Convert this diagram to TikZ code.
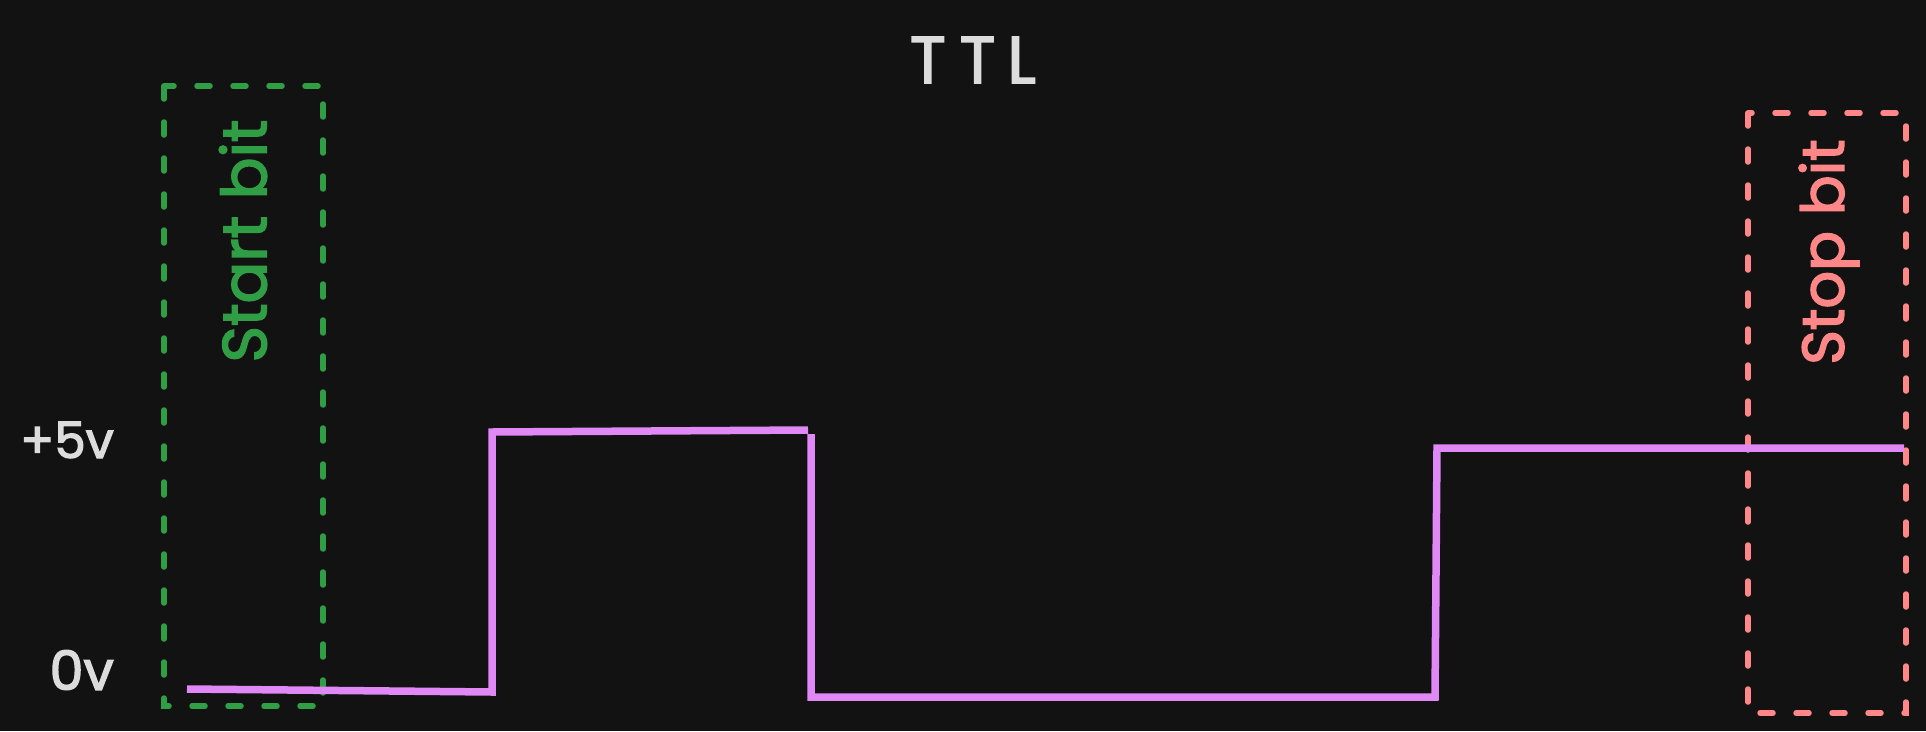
\documentclass[tikz,border=0pt]{standalone}
\usepackage{fontspec}
\setmainfont{Poppins}[FakeBold=2.5,BoldFont=Poppins]
\definecolor{bg}{HTML}{121212}
\definecolor{txtc}{HTML}{DCDCDC}
\definecolor{startc}{HTML}{2F9E44}
\definecolor{stopc}{HTML}{FF8787}
\definecolor{sigc}{HTML}{E088F5}
\begin{document}
\begin{tikzpicture}[x=1pt,y=-1pt,
  lbl/.style={text=txtc, inner sep=0pt},
  bitbox/.style={line width=5.5pt, dash pattern=on 13pt off 23pt, line cap=round},
  bitlbl/.style={inner sep=0pt, rotate=90},
  signal/.style={draw=sigc, line width=7.5pt, line join=miter}]
\fill[bg] (0,0) rectangle (1926,731);
\useasboundingbox (0,0) rectangle (1926,731);
% title
\node[lbl, font=\fontsize{66}{70}\selectfont\bfseries] (title) at (973,60) {T\hspace{14pt}T\hspace{12pt}L};
% level labels
\node[lbl, font=\fontsize{50}{54}\selectfont\bfseries, anchor=east] (hi) at (114,440) {+5v};
\node[lbl, font=\fontsize{54}{58}\selectfont\bfseries, anchor=east] (lo) at (114,670) {0v};
% start bit box
\draw[bitbox, draw=startc] (164,86) rectangle (323,706);
\node[bitlbl, text=startc, font=\fontsize{62}{66}\selectfont\bfseries] (startlbl) at (243,241) {Start bit};
% stop bit box
\draw[bitbox, draw=stopc] (1748,113) rectangle (1906,713);
\node[bitlbl, text=stopc, font=\fontsize{59}{63}\selectfont\bfseries] (stoplbl) at (1829,252) {Stop bit};
% signal
\coordinate (a) at (187,689);
\coordinate (b) at (492,692);
\coordinate (c) at (492,432);
\coordinate (d) at (808,430);
\coordinate (e) at (811,434);
\coordinate (f) at (811,697);
\coordinate (g) at (1435,697);
\coordinate (h) at (1437,448);
\coordinate (i) at (1904,448);
\draw[signal] (a) -- (b) -- (c) -- (d);
\draw[signal] (e) -- (f) -- (g) -- (h) -- (i);
\end{tikzpicture}
\end{document}
